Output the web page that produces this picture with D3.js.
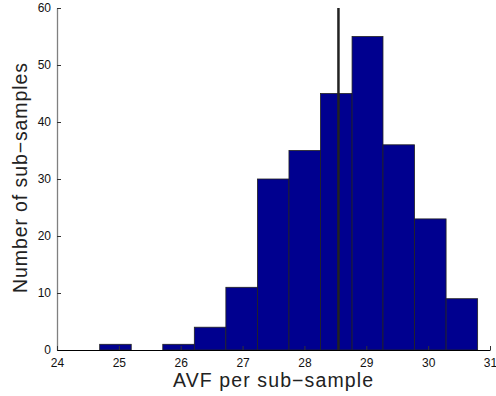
<!DOCTYPE html>
<html><head><meta charset="utf-8">
<script src="https://cdn.jsdelivr.net/npm/d3@7"></script>
<style>body{margin:0;background:#fff}svg{display:block}</style>
</head><body>
<svg id="c" width="496" height="396"></svg>
<script>
const binEdges = [24.69,25.20,25.71,26.22,26.73,27.24,27.75,28.26,28.77,29.27,29.78,30.29,30.80];
const counts = [1,0,1,4,11,30,35,45,55,36,23,9];
const xTicks = [24,25,26,27,28,29,30,31];
const yTicks = [0,10,20,30,40,50,60];
const meanLine = 28.55;

const svg = d3.select("#c");
const x = d3.scaleLinear().domain([24,31]).range([57,490]);
const y = d3.scaleLinear().domain([0,60]).range([350,8]);
const font = "Liberation Sans, Arial, Helvetica, sans-serif";

const bars = counts.map((c,i)=>({x0:binEdges[i],x1:binEdges[i+1],c}));
svg.append("g").selectAll("rect").data(bars.filter(d=>d.c>0)).join("rect")
  .attr("x",d=>x(d.x0)).attr("width",d=>x(d.x1)-x(d.x0))
  .attr("y",d=>y(d.c)).attr("height",d=>y(0)-y(d.c))
  .attr("fill","#00008f").attr("stroke","#222").attr("stroke-width",0.8);

// left axis
const ya = svg.append("g").attr("transform",`translate(${x(24)},0)`)
  .call(d3.axisLeft(y).tickValues(yTicks).tickFormat(d3.format("d")).tickSizeInner(-4).tickSizeOuter(0).tickPadding(6));
ya.select(".domain").attr("stroke","#808080").attr("stroke-width",1.3);
ya.selectAll(".tick line").attr("stroke","#333");
ya.selectAll("text").attr("font-family",font).attr("font-size",12).attr("fill","#111");

// bottom axis
const xa = svg.append("g").attr("transform",`translate(0,${y(0)})`)
  .call(d3.axisBottom(x).tickValues(xTicks).tickFormat(d3.format("d")).tickSizeInner(-4).tickSizeOuter(0).tickPadding(8));
xa.select(".domain").attr("stroke","#000").attr("stroke-width",1);
xa.selectAll(".tick line").attr("stroke","#333");
xa.selectAll("text").attr("font-family",font).attr("font-size",12).attr("fill","#111");

// vertical mean line
svg.append("line").attr("x1",x(meanLine)).attr("x2",x(meanLine))
  .attr("y1",y(60)).attr("y2",y(0)).attr("stroke","#222").attr("stroke-width",2.5);

svg.append("text").attr("x",273).attr("y",387).attr("text-anchor","middle")
  .attr("font-family",font).attr("font-size",19.5).attr("fill","#222")
  .attr("textLength",200).attr("lengthAdjust","spacing").text("AVF per sub\u2212sample");
svg.append("text").attr("transform","translate(27,178) rotate(-90)").attr("text-anchor","middle")
  .attr("font-family",font).attr("font-size",19.5).attr("fill","#222")
  .attr("textLength",230).attr("lengthAdjust","spacing").text("Number of sub\u2212samples");
</script>
</body></html>
